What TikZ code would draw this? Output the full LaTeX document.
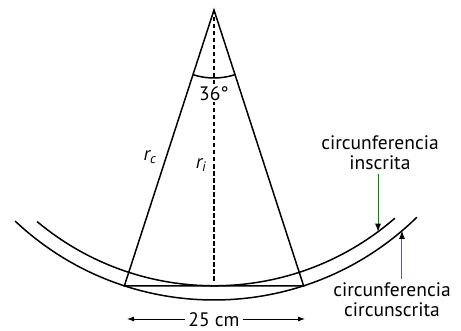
\documentclass[tikz,border=0pt]{standalone}
\usepackage{fontspec}
\setmainfont{PT Sans}
\usetikzlibrary{arrows.meta,positioning,calc}

\begin{document}
\begin{tikzpicture}[x=1pt, y=1pt, line width=1.5pt, >={Latex[length=7pt,width=5pt]},
  every node/.style={font=\fontsize{19.5}{20}\selectfont},
  inarrow/.style={->, line width=0.9pt, draw=green!55!black, >={Latex[length=8pt,width=6pt,black]}},
  outarrow/.style={->, line width=0.9pt, draw=blue!30!gray, >={Latex[length=8pt,width=6pt,black]}}]
  \useasboundingbox (0,0) rectangle (461,330);
  % centre, chord ends and foot of the apothem
  \coordinate (O) at (214,320);
  \coordinate (A) at ($(O)+(252:290)$);
  \coordinate (B) at ($(O)+(288:290)$);
  \coordinate (M) at ($(A)!0.5!(B)$);
  % the two arcs
  \draw ($(O)+(226.7:290)$) arc[start angle=226.7, end angle=314.4, radius=290];
  \draw ($(O)+(230.1:275.8)$) arc[start angle=230.1, end angle=311, radius=275.8];
  % triangle and apothem
  \draw (A) -- (O) -- (B) -- cycle;
  \draw[dash pattern=on 4.5pt off 2.5pt] (O) -- ($(M)+(0,4)$);
  \draw ($(O)+(252:68)$) arc[start angle=252, end angle=288, radius=68];
  \node[fill=white, inner sep=1pt] (ang) at (214,236) {36°};
  \node (rc) at (150,173) {\itshape r\textsubscript{c}};
  \node (ri) at (201,165) {\itshape r\textsubscript{i}};
  % chord length
  \coordinate (d1) at (127,11);
  \coordinate (d2) at (305,11);
  \node[anchor=base, inner xsep=3pt, inner ysep=0pt] (dim) at (214,4) {25 cm};
  \draw[->, line width=0.9pt] (dim.west |- d1) -- (d1);
  \draw[->, line width=0.9pt] (dim.east |- d2) -- (d2);
  % labels of the circles
  \coordinate (Pi) at ($(O)+(306.5:275.8)$);
  \coordinate (Pc) at ($(O)+(310.4:290)$);
  \node[align=center] (ins) at (380,177) {circunferencia\\inscrita};
  \node[align=center] (circ) at (392,30) {circunferencia\\circunscrita};
  \draw[inarrow] (ins.south -| Pi) -- (Pi);
  \draw[outarrow] (circ.north -| Pc) -- (Pc);
\end{tikzpicture}
\end{document}
